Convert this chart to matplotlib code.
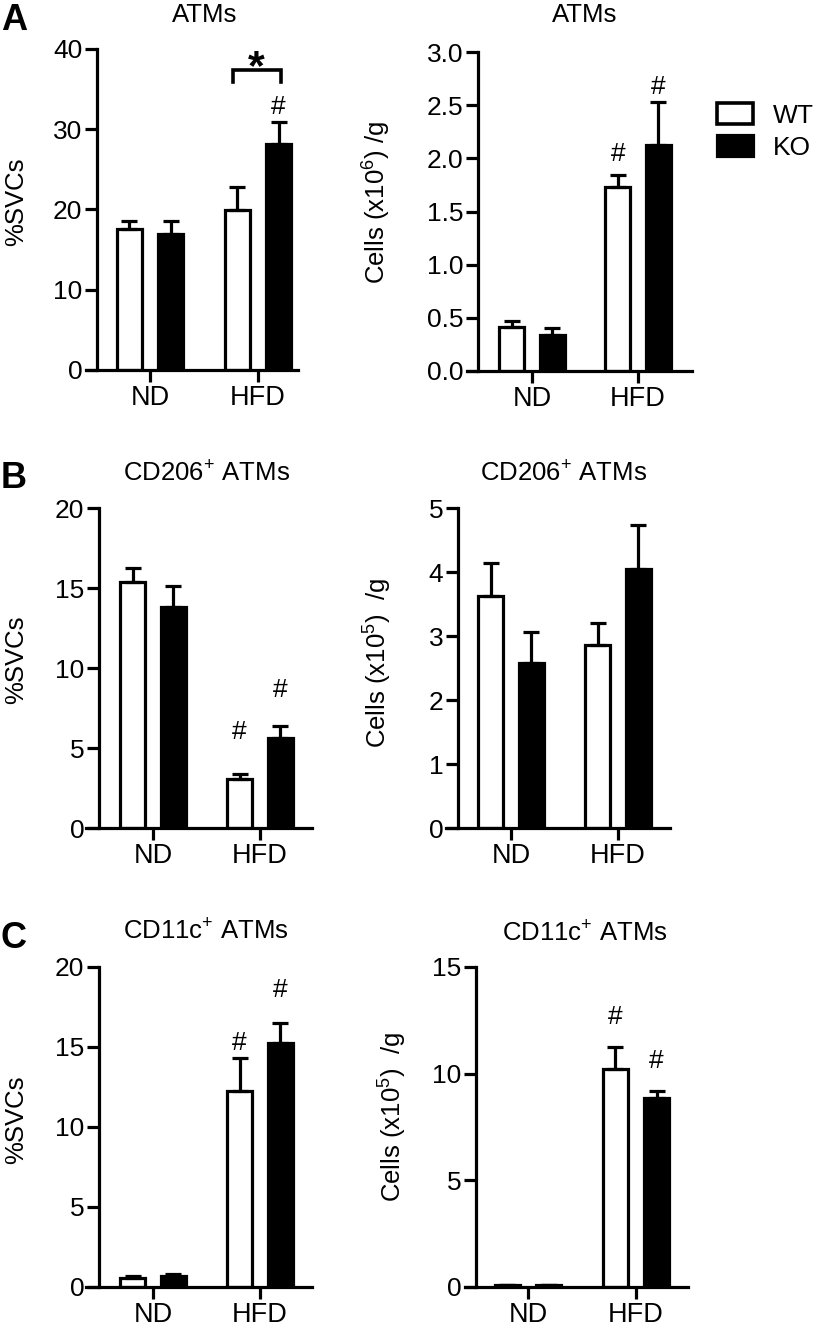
#! /usr/bin/env python3

import numpy as np
import matplotlib
matplotlib.use('Agg')
import matplotlib.pyplot as plt
from matplotlib.patches import Patch

plt.rcParams['font.family'] = ['Liberation Sans', 'DejaVu Sans']
plt.rcParams['mathtext.fontset'] = 'custom'
plt.rcParams['mathtext.rm'] = 'Liberation Sans'
plt.rcParams['mathtext.default'] = 'regular'

groups = ['ND', 'HFD']

# A: total ATMs
atm_pct_wt = [17.6, 19.9]
atm_pct_wt_err = [1.0, 2.9]
atm_pct_ko = [17.0, 28.1]
atm_pct_ko_err = [1.6, 2.8]
atm_cells_wt = [0.41, 1.73]
atm_cells_wt_err = [0.06, 0.11]
atm_cells_ko = [0.34, 2.13]
atm_cells_ko_err = [0.06, 0.40]

# B: CD206+ ATMs
cd206_pct_wt = [15.4, 3.06]
cd206_pct_wt_err = [0.85, 0.34]
cd206_pct_ko = [13.8, 5.6]
cd206_pct_ko_err = [1.3, 0.8]
cd206_cells_wt = [3.63, 2.86]
cd206_cells_wt_err = [0.51, 0.34]
cd206_cells_ko = [2.58, 4.05]
cd206_cells_ko_err = [0.48, 0.68]

# C: CD11c+ ATMs
cd11c_pct_wt = [0.55, 12.25]
cd11c_pct_wt_err = [0.12, 2.05]
cd11c_pct_ko = [0.7, 15.25]
cd11c_pct_ko_err = [0.12, 1.25]
cd11c_cells_wt = [0.08, 10.2]
cd11c_cells_wt_err = [0.03, 1.05]
cd11c_cells_ko = [0.08, 8.85]
cd11c_cells_ko_err = [0.03, 0.35]

W, H = 815, 1325
LW = 2.3
fig = plt.figure(figsize=(W / 100, H / 100), dpi=100)


def barPanel(geom, wt, wt_err, ko, ko_err, ymax, yticks, fmt, title, ylabel,
             label_xy, title_xy, hashes=()):
    left, right, top, bottom, yaxis_px, nd_px, hfd_px = geom
    ax = fig.add_axes([left / W, 1 - bottom / H, (right - left) / W, (bottom - top) / H])
    scale = hfd_px - nd_px
    ax.set_xlim((left - nd_px) / scale, (right - nd_px) / scale)
    ax.set_ylim(0, ymax)
    x = np.arange(len(groups))
    off, bw = 0.19, 0.235
    ax.bar(x - off, wt, bw, color='white', edgecolor='black', linewidth=LW, zorder=2)
    ax.bar(x + off, ko, bw, color='black', edgecolor='black', linewidth=LW, zorder=2)
    for xs, v, e in [(x - off, wt, wt_err), (x + off, ko, ko_err)]:
        ax.errorbar(xs, v, yerr=[np.zeros(len(v)), e], fmt='none', ecolor='black',
                    elinewidth=LW, capsize=5.8, capthick=LW, zorder=3)
    for gi, side, yc in hashes:
        ax.annotate('#', (gi + side * off, yc), xytext=(0, -6.5), textcoords='offset points',
                    ha='center', va='baseline', fontsize=19)
    for s in ['top', 'right']:
        ax.spines[s].set_visible(False)
    ax.spines['left'].set_position(('axes', (yaxis_px - left) / (right - left)))
    for s in ['left', 'bottom']:
        ax.spines[s].set_linewidth(LW)
        ax.spines[s].set_capstyle('projecting')
    ax.set_xticks(x)
    ax.set_xticklabels(groups)
    ax.set_yticks(yticks)
    ax.set_yticklabels([format(t, fmt) for t in yticks])
    ax.tick_params(direction='out', length=8.6, width=LW)
    ax.tick_params(axis='y', labelsize=19, pad=2)
    ax.tick_params(axis='x', labelsize=19.5, pad=2)
    fig.text(title_xy[0] / W, 1 - title_xy[1] / H, title, ha='center', va='baseline', fontsize=18.5)
    fig.text(label_xy[0] / W, 1 - label_xy[1] / H, ylabel, ha='center', va='center',
             rotation=90, fontsize=18.5)
    return ax


axA = barPanel((86, 298, 49, 370, 97, 150, 258), atm_pct_wt, atm_pct_wt_err, atm_pct_ko, atm_pct_ko_err,
               40, [0, 10, 20, 30, 40], 'd', 'ATMs', '%SVCs', (16, 202), (205, 22),
               hashes=[(1, 1, 33.0)])
# significance bracket between WT and KO on HFD
axA.plot([0.77, 0.77, 1.21, 1.21], [35.9, 37.4, 37.4, 35.9], color='black', lw=LW + 0.3,
         clip_on=False, solid_joinstyle='miter')
axA.text(0.98, 36.3, '*', ha='center', va='baseline', fontsize=31, fontweight='bold')

barPanel((467, 692, 52, 371, 478, 532, 638), atm_cells_wt, atm_cells_wt_err, atm_cells_ko, atm_cells_ko_err,
         3.0, [0, 0.5, 1.0, 1.5, 2.0, 2.5, 3.0], '.1f', 'ATMs', 'Cells (x10$^{6}$) /g', (377, 202), (585, 22),
         hashes=[(1, -1, 2.06), (1, 1, 2.69)])

barPanel((86, 312, 508, 828, 99, 153, 260), cd206_pct_wt, cd206_pct_wt_err, cd206_pct_ko, cd206_pct_ko_err,
         20, [0, 5, 10, 15, 20], 'd', 'CD206$^{+}$ ATMs', '%SVCs', (16, 660), (207, 482),
         hashes=[(1, -1, 6.1), (1, 1, 8.75)])

barPanel((446, 670, 508, 828, 458, 511, 618), cd206_cells_wt, cd206_cells_wt_err, cd206_cells_ko, cd206_cells_ko_err,
         5, [0, 1, 2, 3, 4, 5], 'd', 'CD206$^{+}$ ATMs', 'Cells (x10$^{5}$)  /g', (378, 663), (564, 482))

barPanel((86, 312, 967, 1287, 99, 153, 260), cd11c_pct_wt, cd11c_pct_wt_err, cd11c_pct_ko, cd11c_pct_ko_err,
         20, [0, 5, 10, 15, 20], 'd', 'CD11c$^{+}$ ATMs', '%SVCs', (16, 1120), (206, 940),
         hashes=[(1, -1, 15.4), (1, 1, 18.7)])

barPanel((465, 688, 967, 1287, 476, 528, 636), cd11c_cells_wt, cd11c_cells_wt_err, cd11c_cells_ko, cd11c_cells_ko_err,
         15, [0, 5, 10, 15], 'd', 'CD11c$^{+}$ ATMs', 'Cells (x10$^{5}$)  /g', (393, 1117), (585, 942),
         hashes=[(1, -1, 12.75), (1, 1, 10.7)])

# panel letters
for letter, ytop in [('A', 3), ('B', 461), ('C', 921)]:
    fig.text(1 / W, 1 - ytop / H, letter, fontsize=26, fontweight='bold', va='top', ha='left')

handles = [Patch(facecolor='white', edgecolor='black', linewidth=LW + 0.3, label='WT'),
           Patch(facecolor='black', edgecolor='black', linewidth=LW, label='KO')]
fig.legend(handles=handles, loc='upper left', bbox_to_anchor=(717 / W, 1 - 103 / H), frameon=False,
           fontsize=19, handlelength=1.36, handleheight=0.84, handletextpad=0.75,
           labelspacing=0.28, borderpad=0, borderaxespad=0)

fig.savefig('out.png', dpi=100)
